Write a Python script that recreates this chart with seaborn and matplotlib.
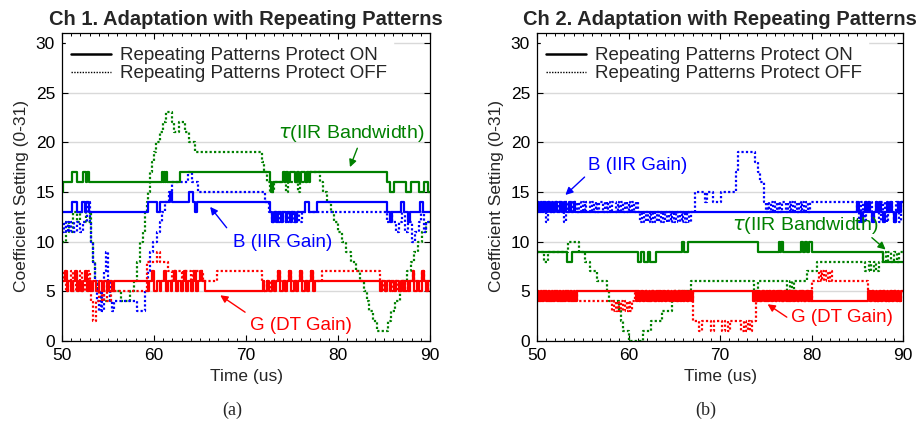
import matplotlib
matplotlib.use("Agg")
import matplotlib.pyplot as plt
from matplotlib.lines import Line2D
from matplotlib.ticker import MultipleLocator
import pandas as pd
import seaborn as sns

# ---------------- data: (time in us, coefficient setting) step traces ----------------
# Channel 1
ch1_tau_on = [(50.0, 15), (50.1, 16), (51.1, 17), (51.6, 16), (52.3, 17), (52.6, 16), (52.7, 17), (52.9, 16),
              (60.9, 17), (61.0, 16), (61.1, 17), (61.2, 16), (61.3, 17), (61.4, 16), (62.8, 17),
              (72.6, 16), (72.7, 15), (72.9, 16), (74.0, 17), (74.2, 16), (74.4, 17), (74.6, 16), (74.8, 17),
              (75.3, 16), (75.5, 17), (75.8, 16), (76.0, 17), (76.4, 16), (76.6, 17), (76.8, 16), (77.0, 17),
              (85.3, 16), (85.6, 15), (86.1, 16), (87.4, 15), (87.9, 16), (88.8, 15), (89.3, 16), (89.8, 15), (90.0, 15)]
ch1_tau_off = [(50.0, 10), (50.4, 12), (50.8, 11), (51.2, 13), (51.6, 12), (52.0, 13), (52.6, 12), (53.0, 13),
               (53.2, 10), (53.4, 8), (53.6, 6), (53.8, 5), (54.2, 4), (55.2, 5), (56.4, 4), (57.4, 5), (57.8, 6),
               (58.1, 8), (58.5, 10), (58.8, 11), (59.0, 13), (59.2, 14), (59.4, 15), (59.6, 17), (59.8, 18),
               (60.0, 19), (60.2, 20), (60.6, 21), (61.0, 22), (61.3, 23), (62.0, 22), (62.2, 21), (62.7, 22),
               (63.4, 21), (63.8, 20), (64.5, 19), (71.7, 18), (72.0, 17), (72.3, 16), (72.6, 15), (73.0, 16),
               (74.3, 15), (74.6, 16), (75.6, 15), (75.9, 16), (76.6, 17), (78.0, 16), (78.4, 15), (78.8, 14),
               (79.2, 13), (79.6, 12), (80.0, 11), (80.4, 10), (80.9, 9), (81.4, 8), (82.0, 7), (82.4, 6),
               (82.8, 5), (83.1, 4), (83.4, 3), (83.8, 2), (84.2, 1), (85.4, 2), (85.8, 3), (86.2, 4), (86.7, 5),
               (87.1, 6), (87.5, 7), (87.9, 8), (88.3, 9), (88.7, 10), (89.1, 11), (89.6, 12), (90.0, 12)]
ch1_b_on = [(50.0, 13), (51.1, 14), (51.6, 13), (52.2, 14), (52.5, 13), (52.6, 14), (52.9, 13), (59.4, 14),
            (60.3, 13), (60.6, 14), (61.7, 15), (62.0, 14), (63.8, 15), (64.2, 14), (64.5, 13), (64.7, 14),
            (72.6, 13), (72.8, 12), (73.0, 13), (73.3, 12), (73.5, 13), (73.8, 12), (74.0, 13), (74.3, 12),
            (74.5, 13), (74.8, 12), (75.0, 13), (75.3, 12), (75.5, 13), (76.4, 14), (76.9, 13), (77.7, 14),
            (85.3, 13), (85.7, 12), (85.9, 13), (86.9, 14), (87.2, 13), (87.6, 12), (87.8, 13), (88.9, 14),
            (89.2, 13), (90.0, 13)]
ch1_b_off = [(50.0, 11), (50.2, 12), (50.4, 11), (50.6, 12), (50.8, 11), (51.0, 12), (51.3, 11), (51.6, 12),
             (52.0, 11), (52.3, 12), (52.7, 14), (53.0, 12), (53.2, 10), (53.4, 8), (53.6, 6), (53.8, 4),
             (54.0, 3), (54.2, 5), (54.4, 3), (54.6, 7), (54.8, 9), (55.0, 6), (55.2, 4), (55.4, 3), (55.6, 4),
             (58.2, 3), (59.0, 5), (59.3, 7), (59.6, 9), (59.9, 10), (60.3, 11), (60.6, 12), (60.9, 13),
             (61.2, 14), (61.6, 15), (62.0, 16), (63.7, 17), (64.1, 16), (64.8, 15),
             (72.1, 14), (72.5, 13), (72.8, 12), (73.1, 13), (73.4, 12), (73.7, 13), (74.0, 12), (74.3, 13),
             (74.6, 12), (74.9, 13), (75.2, 12), (75.5, 13), (75.8, 12), (76.1, 13),
             (85.3, 12), (85.6, 13), (85.9, 12), (86.3, 11), (86.6, 12), (87.0, 13), (87.3, 11), (87.6, 12),
             (88.0, 10), (88.4, 11), (88.8, 12), (89.0, 13), (89.3, 11), (89.6, 12), (90.0, 12)]
ch1_g_on = [(50.0, 6), (50.3, 7), (50.5, 5), (50.7, 6), (51.0, 5), (51.2, 6), (51.4, 7), (51.6, 5), (51.8, 6),
            (52.1, 5), (52.3, 6), (52.5, 7), (52.7, 5), (52.9, 6), (53.2, 5), (53.4, 6), (53.7, 5), (54.0, 6),
            (54.3, 5), (54.6, 6), (54.9, 5), (55.1, 6), (55.4, 5), (55.6, 6), (59.3, 5), (59.5, 6), (59.8, 7),
            (60.0, 5), (60.3, 6), (60.6, 5), (60.8, 6), (61.1, 7), (61.3, 5), (61.5, 6), (61.8, 5), (62.0, 6),
            (62.2, 7), (62.4, 5), (62.6, 6), (62.9, 5), (63.1, 6), (63.3, 7), (63.5, 5), (63.7, 6), (64.0, 5),
            (64.2, 6), (64.4, 7), (64.6, 5), (64.8, 6), (65.0, 7), (65.2, 6), (65.5, 5), (71.8, 6), (72.0, 5),
            (72.3, 6), (72.5, 5), (72.8, 6), (73.0, 5), (73.3, 6), (73.5, 7), (73.7, 5), (74.0, 6), (74.2, 5),
            (74.5, 6), (74.7, 7), (74.9, 5), (75.2, 6), (75.4, 5), (75.7, 6), (75.9, 7), (76.1, 5), (76.4, 6),
            (76.6, 5), (76.9, 6), (77.1, 7), (77.3, 5), (77.5, 6), (84.6, 5), (84.8, 6), (85.1, 5), (85.3, 6),
            (85.6, 5), (85.8, 6), (86.1, 5), (86.3, 6), (86.6, 5), (86.8, 6), (87.1, 5), (87.3, 6), (87.6, 5),
            (87.8, 6), (88.1, 7), (88.3, 5), (88.6, 6), (88.8, 5), (89.1, 7), (89.3, 6), (89.6, 5), (89.8, 6),
            (90.0, 6)]
ch1_g_off = [(50.0, 6), (50.2, 7), (50.4, 5), (50.6, 6), (51.0, 7), (51.2, 5), (51.5, 6), (52.0, 7), (52.2, 5),
             (52.5, 6), (52.8, 7), (53.0, 5), (53.2, 4), (53.4, 2), (53.7, 4), (54.0, 5), (54.3, 4), (54.6, 5),
             (54.9, 4), (55.3, 5), (59.2, 8), (60.3, 9), (60.6, 8), (61.5, 7), (62.0, 6), (62.2, 7), (63.0, 6),
             (63.2, 7), (64.0, 6), (64.2, 7), (65.3, 6), (66.9, 7), (71.7, 6), (72.0, 5), (72.3, 6), (72.6, 5),
             (72.9, 6), (73.5, 7), (73.7, 6), (74.7, 7), (74.9, 6), (75.9, 7), (76.1, 6), (77.1, 7), (77.3, 6),
             (78.3, 7), (84.6, 6), (84.9, 5), (85.2, 6), (85.6, 5), (86.0, 6), (86.4, 5), (86.8, 6), (87.3, 5),
             (87.6, 6), (88.1, 7), (88.3, 6), (89.1, 7), (89.3, 6), (89.8, 5), (90.0, 5)]

# Channel 2
ch2_tau_on = [(50.0, 9), (53.3, 8), (53.8, 9), (61.0, 8), (61.4, 9), (61.7, 8), (62.1, 9), (62.4, 8), (63.0, 9),
              (65.8, 10), (66.1, 9), (66.5, 10), (74.2, 9), (76.4, 10), (76.6, 9), (76.7, 10), (76.9, 9),
              (78.8, 10), (79.1, 9), (79.3, 10), (79.5, 9), (79.7, 10), (80.0, 9), (87.8, 8), (90.0, 8)]
ch2_tau_off = [(50.0, 9), (50.8, 8), (51.2, 9), (53.4, 10), (54.6, 9), (55.2, 8), (55.8, 7), (56.6, 6),
               (57.6, 5), (57.9, 4), (59.0, 3), (59.2, 2), (59.4, 1), (60.1, 0), (61.6, 1), (62.5, 2), (63.7, 3),
               (64.7, 4), (65.1, 5), (66.8, 6), (73.7, 5), (74.1, 6), (77.3, 5), (77.6, 6), (77.9, 5), (78.1, 6),
               (79.5, 7), (80.6, 8), (85.9, 7), (86.3, 8), (86.5, 7), (86.8, 8), (87.1, 7), (87.4, 8), (87.8, 9),
               (88.1, 8), (88.4, 9), (88.7, 8), (89.0, 9), (89.3, 8), (89.6, 9), (90.0, 9)]
ch2_b_on = [(50.0, 14), (50.2, 13), (50.4, 14), (50.6, 13), (50.8, 14), (51.0, 13), (51.2, 14), (51.4, 13),
            (51.6, 14), (51.8, 13), (52.0, 14), (52.2, 13), (52.5, 14), (52.7, 13), (53.0, 14), (53.2, 13),
            (53.5, 14), (53.7, 13), (54.0, 14), (54.2, 13), (85.0, 14), (85.2, 13), (85.4, 12), (85.6, 13),
            (85.8, 14), (86.0, 13), (86.2, 14), (86.4, 13), (86.6, 12), (86.8, 13), (87.0, 14), (87.2, 13),
            (87.4, 14), (87.6, 13), (87.8, 12), (88.0, 13), (88.2, 14), (88.4, 13), (88.6, 14), (88.8, 13),
            (89.0, 12), (89.2, 13), (89.4, 14), (89.6, 13), (89.8, 14), (90.0, 14)]
ch2_b_off = [(50.0, 13), (50.2, 14), (50.4, 13), (50.6, 14), (50.8, 13), (51.0, 12), (51.2, 14), (51.4, 13),
             (51.6, 14), (51.8, 13), (52.0, 14), (52.2, 13), (52.4, 14), (52.6, 13), (52.8, 14), (53.0, 12),
             (53.2, 14), (53.4, 13), (53.6, 14), (53.8, 13), (54.0, 14), (54.4, 13), (54.6, 14), (54.8, 13),
             (55.0, 14), (55.2, 13), (55.4, 14), (55.8, 13), (56.0, 14), (56.2, 13), (56.4, 14), (56.6, 13),
             (56.8, 14), (57.2, 13), (57.4, 14), (57.6, 13), (57.8, 14), (58.0, 13), (58.2, 14), (58.6, 13),
             (58.8, 14), (59.0, 13), (59.2, 14), (59.4, 13), (59.6, 14), (59.8, 13), (60.0, 14), (60.2, 13),
             (60.4, 14), (60.6, 13), (60.8, 14), (61.0, 13), (61.3, 12), (61.5, 13), (61.7, 12), (61.9, 13),
             (62.1, 12), (62.3, 13), (62.5, 12), (62.7, 13), (62.9, 12), (63.1, 13), (63.3, 12), (63.5, 13),
             (63.8, 12), (64.0, 13), (64.2, 12), (64.4, 13), (64.6, 12), (64.8, 13), (65.0, 12), (65.2, 13),
             (65.4, 12), (65.6, 13), (65.8, 12), (66.0, 13), (66.2, 12), (66.4, 13), (66.6, 12), (66.8, 13),
             (67.3, 15), (68.4, 14), (68.6, 15), (69.2, 14), (70.1, 15), (71.7, 17), (72.0, 19), (73.8, 18),
             (74.1, 17), (74.4, 16), (74.8, 14), (75.0, 13), (75.2, 14), (75.4, 13), (75.6, 14), (75.8, 13),
             (76.0, 14), (76.2, 13), (76.4, 14), (76.6, 13), (76.8, 14), (77.2, 13), (77.4, 14), (77.6, 13),
             (77.8, 14), (78.0, 13), (78.2, 14), (78.4, 13), (78.6, 14), (78.8, 13), (79.0, 14), (79.2, 13),
             (79.4, 14), (79.6, 13), (79.8, 14), (85.0, 13), (85.2, 12), (85.4, 14), (85.6, 13), (85.8, 12),
             (86.0, 14), (86.2, 13), (86.4, 14), (86.6, 12), (86.8, 13), (87.0, 14), (87.2, 13), (87.4, 12),
             (87.6, 14), (87.8, 13), (88.0, 14), (88.2, 12), (88.4, 13), (88.6, 14), (88.8, 13), (89.0, 12),
             (89.2, 14), (89.4, 13), (89.6, 12), (89.8, 14), (90.0, 14)]
ch2_g_on = [(50.0, 5), (50.2, 4), (50.4, 5), (50.6, 4), (50.8, 5), (51.0, 4), (51.2, 5), (51.4, 4), (51.6, 5),
            (51.8, 4), (52.0, 5), (52.2, 4), (52.4, 5), (52.6, 4), (52.8, 5), (53.0, 4), (53.2, 5), (53.4, 4),
            (53.6, 5), (53.8, 4), (54.0, 5), (54.2, 4), (54.4, 5),
            (60.8, 4), (61.0, 5), (61.2, 4), (61.4, 5), (61.6, 4), (61.8, 5), (62.0, 4), (62.2, 5), (62.4, 4),
            (62.6, 5), (62.8, 4), (63.0, 5), (63.2, 4), (63.4, 5), (63.6, 4), (63.8, 5), (64.0, 4), (64.2, 5),
            (64.4, 4), (64.6, 5), (64.8, 4), (65.0, 5), (65.2, 4), (65.4, 5), (65.6, 4), (65.8, 5), (66.0, 4),
            (66.2, 5), (66.4, 4), (66.6, 5), (66.8, 4), (67.0, 5),
            (73.6, 4), (73.8, 5), (74.0, 4), (74.2, 5), (74.4, 4), (74.6, 5), (74.8, 4), (75.0, 5), (75.2, 4),
            (75.4, 5), (75.6, 4), (75.8, 5), (76.0, 4), (76.2, 5), (76.4, 4), (76.6, 5), (76.8, 4), (77.0, 5),
            (77.2, 4), (77.4, 5), (77.6, 4), (77.8, 5), (78.0, 4), (78.2, 5), (78.4, 4), (78.6, 5), (78.8, 4),
            (79.0, 5), (79.2, 4), (79.4, 5), (79.6, 4), (79.8, 5), (80.0, 4),
            (86.2, 5), (86.4, 4), (86.6, 5), (86.8, 4), (87.0, 5), (87.2, 4), (87.4, 5), (87.6, 4), (87.8, 5),
            (88.0, 4), (88.2, 5), (88.4, 4), (88.6, 5), (88.8, 4), (89.0, 5), (89.2, 4), (89.4, 5), (89.6, 4),
            (89.8, 5), (90.0, 5)]
ch2_g_off = [(50.0, 4), (50.2, 5), (50.4, 4), (50.6, 5), (50.8, 4), (51.0, 5), (51.2, 4), (51.4, 5), (51.6, 4),
             (51.8, 5), (52.0, 4), (52.2, 5), (52.4, 4), (52.6, 5), (52.8, 4), (53.0, 5), (53.2, 4), (53.4, 5),
             (53.6, 4), (53.8, 5), (54.0, 4), (54.2, 5), (54.4, 4),
             (58.2, 3), (58.4, 4), (58.6, 3), (58.8, 4), (59.0, 3), (59.2, 4), (59.4, 3), (59.6, 4), (59.8, 3),
             (60.0, 4), (60.2, 3), (60.4, 4), (60.7, 5), (61.0, 4), (61.3, 5), (61.6, 4), (61.9, 5), (62.2, 4),
             (62.5, 5), (62.8, 4), (63.1, 5), (63.4, 4), (63.7, 5), (64.0, 4), (64.3, 5), (64.6, 4), (64.9, 5),
             (65.2, 4), (65.5, 5), (65.8, 4), (66.1, 5), (66.4, 4), (66.7, 5),
             (67.0, 2), (67.7, 1), (68.0, 2), (69.0, 1), (69.3, 2), (70.2, 1), (70.5, 2), (70.9, 1), (71.1, 2),
             (72.3, 1), (72.6, 2), (72.8, 1), (73.1, 2), (73.3, 1), (73.5, 2),
             (73.9, 4), (74.1, 5), (74.3, 4), (74.6, 5), (74.9, 4), (75.2, 5), (75.5, 4), (75.8, 5), (76.1, 4),
             (76.4, 5), (76.7, 4), (77.0, 5), (77.3, 4), (77.6, 5), (77.9, 4), (78.2, 5), (78.5, 4), (78.8, 5),
             (79.1, 4), (79.4, 5), (79.7, 4), (80.0, 6), (80.8, 7), (81.0, 6), (81.2, 7), (81.4, 6), (81.6, 7),
             (81.8, 6), (82.0, 7), (82.2, 6),
             (86.2, 5), (86.4, 4), (86.6, 5), (86.8, 4), (87.0, 5), (87.2, 4), (87.4, 5), (87.6, 4), (87.8, 5),
             (88.0, 4), (88.2, 5), (88.4, 4), (88.6, 5), (88.8, 4), (89.0, 5), (89.2, 4), (89.4, 5), (89.6, 4),
             (89.8, 5), (90.0, 5)]

titles = ["Ch 1. Adaptation with Repeating Patterns", "Ch 2. Adaptation with Repeating Patterns"]
legend_labels = ["Repeating Patterns Protect ON", "Repeating Patterns Protect OFF"]
x_ticks = [50, 60, 70, 80, 90]
y_ticks = [0, 5, 10, 15, 20, 25, 30]
panel_tags = ["(a)", "(b)"]

GREEN, BLUE, RED = "#008000", "#0000ff", "#ff0000"
DOT = (0, (1, 1))

# ---------------- styling ----------------
sns.set_theme(style="ticks")
plt.rcParams["font.family"] = ["Liberation Sans", "DejaVu Sans"]
plt.rcParams["mathtext.fontset"] = "dejavusans"

fig = plt.figure(figsize=(9.22, 4.37), dpi=100)
W, H = 922, 437
ax1 = fig.add_axes([62 / W, 1 - 341 / H, (430 - 62) / W, (341 - 33) / H])
ax2 = fig.add_axes([537 / W, 1 - 341 / H, (903 - 537) / W, (341 - 33) / H])


def frame(points):
    return pd.DataFrame(points, columns=["t", "v"])


def draw(ax, points, color, on):
    sns.lineplot(data=frame(points), x="t", y="v", ax=ax, color=color, estimator=None,
                 sort=False, legend=False, drawstyle="steps-post",
                 linewidth=1.6, linestyle="-" if on else DOT)


panels = [
    (ax1, [(ch1_tau_off, GREEN), (ch1_b_off, BLUE), (ch1_g_off, RED)],
          [(ch1_tau_on, GREEN), (ch1_b_on, BLUE), (ch1_g_on, RED)]),
    (ax2, [(ch2_tau_off, GREEN), (ch2_b_off, BLUE), (ch2_g_off, RED)],
          [(ch2_tau_on, GREEN), (ch2_b_on, BLUE), (ch2_g_on, RED)]),
]

for i, (ax, off_traces, on_traces) in enumerate(panels):
    for pts, c in off_traces:
        draw(ax, pts, c, on=False)
    for pts, c in on_traces:
        draw(ax, pts, c, on=True)

    ax.set_xlim(50, 90)
    ax.set_ylim(0, 31)
    ax.set_xticks(x_ticks)
    ax.set_yticks(y_ticks)
    ax.xaxis.set_minor_locator(MultipleLocator(1))
    ax.tick_params(which="both", direction="in", top=True, right=True, labelsize=12.5, colors="black")
    ax.tick_params(which="major", length=4, width=0.8, pad=5)
    ax.tick_params(which="minor", length=2.2, width=0.7)
    ax.grid(axis="y", color="#d9d9d9", linewidth=1.0)
    ax.set_axisbelow(True)
    for s in ax.spines.values():
        s.set_color("black")
        s.set_linewidth(0.9)
    ax.set_xlabel("Time (us)", fontsize=12.5, labelpad=4)
    ax.set_ylabel("Coefficient Setting (0-31)", fontsize=12.5)
    ax.yaxis.set_label_coords(-0.09, 0.47)
    ax.set_title(titles[i], fontsize=14.5, fontweight="bold", pad=6)

    handles = [Line2D([], [], color="black", lw=1.8, ls="-"),
               Line2D([], [], color="black", lw=1.0, ls=DOT)]
    ax.legend(handles, legend_labels, loc="upper left", bbox_to_anchor=(0.0, 0.985),
              fontsize=13.5, frameon=True, fancybox=False, framealpha=1,
              edgecolor="white", facecolor="white", borderpad=0.3, borderaxespad=0.2,
              handlelength=2.1, handletextpad=0.5, labelspacing=0.05)

    fig.text((246 if i == 0 else 720) / W - 14 / W, 1 - 410 / H, panel_tags[i],
             family=["Liberation Serif", "DejaVu Serif"], fontsize=13, ha="center", va="center")

arrow = dict(arrowstyle="-|>", mutation_scale=11, shrinkA=0, shrinkB=0)

# Channel 1 labels
ax1.text(81.4, 20.9, r"$\tau$(IIR Bandwidth)", color=GREEN, fontsize=14, ha="center", va="center")
ax1.annotate("", xy=(81.3, 17.5), xytext=(82.1, 19.4), arrowprops=dict(arrow, color=GREEN, lw=1.0))
ax1.text(74.0, 9.9, "B (IIR Gain)", color=BLUE, fontsize=13.5, ha="center", va="center")
ax1.annotate("", xy=(66.1, 13.5), xytext=(67.9, 11.4), arrowprops=dict(arrow, color=BLUE, lw=1.0))
ax1.text(76.0, 1.6, "G (DT Gain)", color=RED, fontsize=13.5, ha="center", va="center")
ax1.annotate("", xy=(67.2, 4.6), xytext=(69.9, 2.9), arrowprops=dict(arrow, color=RED, lw=1.0))

# Channel 2 labels
ax2.text(61.0, 17.7, "B (IIR Gain)", color=BLUE, fontsize=13.5, ha="center", va="center")
ax2.annotate("", xy=(53.1, 14.7), xytext=(55.2, 16.5), arrowprops=dict(arrow, color=BLUE, lw=1.0))
ax2.text(79.3, 11.6, r"$\tau$(IIR Bandwidth)", color=GREEN, fontsize=14, ha="center", va="center")
ax2.annotate("", xy=(88.1, 9.2), xytext=(86.6, 10.4), arrowprops=dict(arrow, color=GREEN, lw=1.0))
ax2.text(83.3, 2.4, "G (DT Gain)", color=RED, fontsize=13.5, ha="center", va="center")
ax2.annotate("", xy=(75.2, 3.7), xytext=(77.3, 2.4), arrowprops=dict(arrow, color=RED, lw=1.0))

fig.savefig("out.png", dpi=100)
